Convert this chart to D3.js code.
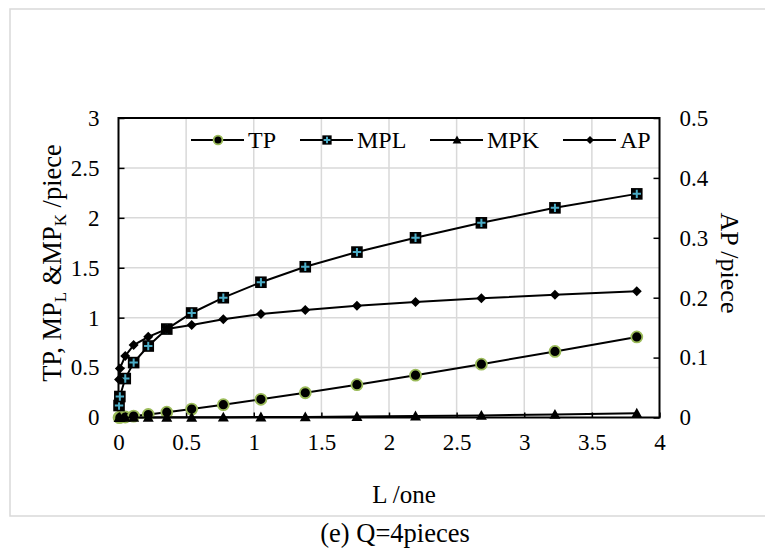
<!DOCTYPE html>
<html><head><meta charset="utf-8">
<script src="https://cdn.jsdelivr.net/npm/d3@7"></script>
<style>
html,body{margin:0;padding:0;background:#fff;}
</style></head>
<body><svg id="c" width="765" height="549"></svg>
<script>
// ---- data ----
const L   = [0.004, 0.01, 0.05, 0.112, 0.22, 0.357, 0.541, 0.775, 1.053, 1.381, 1.763, 2.196, 2.683, 3.227, 3.832];
const TP  = [0.0003, 0.001, 0.005, 0.014, 0.030, 0.053, 0.084, 0.128, 0.182, 0.248, 0.329, 0.424, 0.534, 0.662, 0.807];
const MPL = [0.12, 0.21, 0.39, 0.55, 0.716, 0.886, 1.047, 1.20, 1.355, 1.51, 1.657, 1.80, 1.95, 2.10, 2.24];
const MPK = [0, 0, 0.0005, 0.001, 0.001, 0.002, 0.002, 0.003, 0.004, 0.006, 0.009, 0.014, 0.021, 0.031, 0.042];
const AP  = [0.0635, 0.082, 0.1027, 0.121, 0.1347, 0.1476, 0.1546, 0.164, 0.1726, 0.1796, 0.1866, 0.193, 0.199, 0.205, 0.2107];
const xTicks = [0, 0.5, 1, 1.5, 2, 2.5, 3, 3.5, 4];
const yTicks = [0, 0.5, 1, 1.5, 2, 2.5, 3];
const y2Ticks = [0, 0.1, 0.2, 0.3, 0.4, 0.5];
const seriesNames = ["TP", "MPL", "MPK", "AP"];

(function () {
const FONT = "'Liberation Serif', 'Times New Roman', serif";
const svg = d3.select("#c");
const pL = 118.5, pR = 659.5, pT = 118, pB = 417.5;
const x = d3.scaleLinear().domain([0, 4]).range([pL, pR]);
const y = d3.scaleLinear().domain([0, 3]).range([pB, pT]);
const y2 = d3.scaleLinear().domain([0, 0.5]).range([pB, pT]);

// outer frame
svg.append("rect").attr("x", 10).attr("y", 9).attr("width", 770).attr("height", 507)
  .attr("fill", "none").attr("stroke", "#d9d9d9").attr("stroke-width", 1.5);

// gridlines
const grid = svg.append("g").attr("stroke", "#d9d9d9").attr("stroke-width", 1.5);
grid.selectAll("line.v").data(xTicks.slice(1, -1)).join("line").attr("class", "v")
  .attr("x1", d => x(d)).attr("x2", d => x(d)).attr("y1", pT).attr("y2", pB);
grid.selectAll("line.h").data(yTicks.slice(1, -1)).join("line").attr("class", "h")
  .attr("x1", pL).attr("x2", pR).attr("y1", d => y(d)).attr("y2", d => y(d));

// axes
const ax = svg.append("g").attr("transform", `translate(0,${pB})`)
  .call(d3.axisBottom(x).tickValues(xTicks).tickSize(-5).tickPadding(16).tickFormat(d3.format("")));
const ay = svg.append("g").attr("transform", `translate(${pL},0)`)
  .call(d3.axisLeft(y).tickValues(yTicks).tickSize(-6).tickPadding(19).tickFormat(d3.format("")));
const ay2 = svg.append("g").attr("transform", `translate(${pR},0)`)
  .call(d3.axisRight(y2).tickValues(y2Ticks).tickSize(-6).tickPadding(20).tickFormat(d3.format("")));
[ax, ay, ay2].forEach(g => {
  g.select(".domain").remove();
  g.selectAll("line").attr("stroke", "#000").attr("stroke-width", 1.5);
  g.selectAll("text").style("font-family", FONT).style("font-size", "23px").attr("fill", "#000");
});
// plot border
svg.append("rect").attr("x", pL).attr("y", pT).attr("width", pR - pL).attr("height", pB - pT)
  .attr("fill", "none").attr("stroke", "#000").attr("stroke-width", 2);

// series
const cfg = {
  TP:  {vals: TP,  sc: y},
  MPL: {vals: MPL, sc: y},
  MPK: {vals: MPK, sc: y},
  AP:  {vals: AP,  sc: y2}
};
function marker(g, name, s) {
  if (name === "TP") {
    g.append("circle").attr("r", 5.5 * s).attr("fill", "#000").attr("stroke", "#9bbb59").attr("stroke-width", 1.8);
  } else if (name === "MPL") {
    const h = 5.8 * s;
    g.append("rect").attr("x", -h).attr("y", -h).attr("width", 2 * h).attr("height", 2 * h).attr("fill", "#000");
    const a = 4.2 * s;
    g.append("path").attr("d", `M${-a},0H${a}M0,${-a}V${a}`).attr("stroke", "#4bacc6").attr("stroke-width", 2);
  } else if (name === "MPK") {
    const h = 5.5 * s;
    g.append("path").attr("d", `M0,${-h}L${h},${h * 0.8}L${-h},${h * 0.8}Z`).attr("fill", "#000");
  } else {
    const h = 5 * s;
    g.append("path").attr("d", `M0,${-h}L${h},0L0,${h}L${-h},0Z`).attr("fill", "#000");
  }
}
seriesNames.forEach(name => {
  const c = cfg[name];
  const pts = L.map((l, i) => [x(l), c.sc(c.vals[i])]);
  svg.append("path").attr("d", d3.line()(pts)).attr("fill", "none").attr("stroke", "#000").attr("stroke-width", 2);
  const mg = svg.append("g");
  pts.forEach(p => {
    const g = mg.append("g").attr("transform", `translate(${p[0]},${p[1]})`);
    marker(g, name, 1);
  });
});

function txt(sel) { return sel.style("font-family", FONT).attr("fill", "#000"); }

// legend
const legX = [191, 300, 430, 563];
seriesNames.forEach((name, i) => {
  const g = svg.append("g").attr("transform", `translate(${legX[i]},140)`);
  g.append("line").attr("x1", 0).attr("x2", 53).attr("stroke", "#000").attr("stroke-width", 2);
  const m = g.append("g").attr("transform", "translate(27,0)");
  marker(m, name, 0.8);
  txt(g.append("text")).attr("x", 57).attr("y", 0).attr("dy", "0.35em").style("font-size", "24px").text(name);
});

// axis titles
const lt = txt(svg.append("text")).attr("transform", "translate(61,263) rotate(-90)")
  .attr("text-anchor", "middle").style("font-size", "26.5px");
lt.append("tspan").text("TP, MP");
lt.append("tspan").attr("dy", 5).style("font-size", "17px").text("L");
lt.append("tspan").attr("dy", -5).text(" &MP");
lt.append("tspan").attr("dy", 5).style("font-size", "17px").text("K");
lt.append("tspan").attr("dy", -5).text(" /piece");

txt(svg.append("text")).attr("transform", "translate(721,263) rotate(90)")
  .attr("text-anchor", "middle").style("font-size", "26px").text("AP /piece");

txt(svg.append("text")).attr("x", 404).attr("y", 503).attr("text-anchor", "middle")
  .style("font-size", "25px").text("L /one");

txt(svg.append("text")).attr("x", 395).attr("y", 542).attr("text-anchor", "middle")
  .style("font-size", "26.5px").text("(e) Q=4pieces");
})();
</script></body></html>
